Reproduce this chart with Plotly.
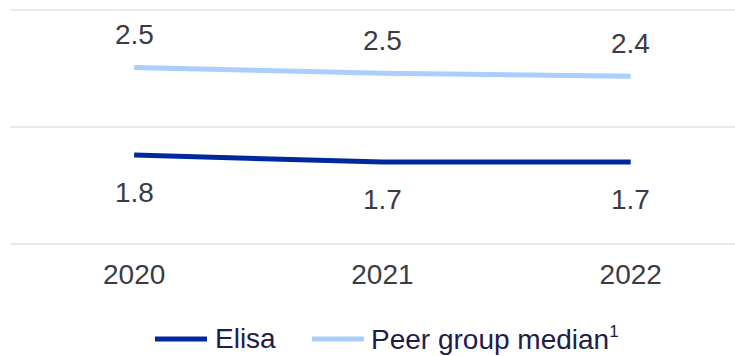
import plotly.graph_objects as go

years = ["2020", "2021", "2022"]
elisa = [1.76, 1.70, 1.70]
peer_median = [2.51, 2.46, 2.435]
series_names = ["Elisa", "Peer group median<sup><span style='font-size:17px'>1</span></sup>"]

ELISA_COLOR = "#00289e"
PEER_COLOR = "#abcffd"
LABEL_COLOR = "#3b3b44"
LEGEND_TEXT = "#1c2048"
FONT = "Liberation Sans, Arial, sans-serif"
FS = 28

# plot-area geometry (pixels) used to place the hand-made legend
W, H = 735, 356
L, R, T = 10, 0, 7.7
Y_RANGE = [0.98, 3.02]
PLOT_H = 238.2
B = H - T - PLOT_H


def px_to_paper(px, py):
    return (px - L) / (W - L - R), (T + PLOT_H - py) / PLOT_H


fig = go.Figure()
for name, vals, color in [(series_names[0], elisa, ELISA_COLOR),
                          (series_names[1], peer_median, PEER_COLOR)]:
    fig.add_trace(go.Scatter(
        x=list(range(len(years))), y=vals, name=name, mode="lines",
        line=dict(color=color, width=5), hoverinfo="skip", showlegend=False,
    ))

# value labels: peer above its line, Elisa below
for i, v in enumerate(peer_median):
    fig.add_annotation(x=i, y=v, text=f"{v:.1f}", showarrow=False, yshift=33,
                       font=dict(size=FS, color=LABEL_COLOR, family=FONT))
for i, v in enumerate(elisa):
    fig.add_annotation(x=i, y=v, text=f"{v:.1f}", showarrow=False, yshift=-37,
                       font=dict(size=FS, color=LABEL_COLOR, family=FONT))

# legend: short thick line followed by the series name
legend_items = [(155, 207, 213, series_names[0], ELISA_COLOR),
                (312, 364, 369, series_names[1], PEER_COLOR)]
for x0, x1, tx, name, color in legend_items:
    p0x, py = px_to_paper(x0, 339)
    p1x, _ = px_to_paper(x1, 339)
    fig.add_shape(type="line", xref="paper", yref="paper", x0=p0x, x1=p1x, y0=py, y1=py,
                  line=dict(color=color, width=5))
    ptx, pty = px_to_paper(tx, 338)
    fig.add_annotation(xref="paper", yref="paper", x=ptx, y=pty, text=name,
                       xanchor="left", yanchor="middle", showarrow=False,
                       font=dict(size=FS, color=LEGEND_TEXT, family=FONT))

fig.update_layout(
    width=W, height=H,
    margin=dict(l=L, r=R, t=T, b=B),
    paper_bgcolor="white", plot_bgcolor="white",
    font=dict(family=FONT, size=FS, color=LABEL_COLOR),
    showlegend=False,
)
fig.update_xaxes(range=[-0.5, 2.42], tickvals=list(range(len(years))), ticktext=years,
                 showgrid=False, zeroline=False, showline=False, ticks="",
                 ticklabelstandoff=9,
                 tickfont=dict(size=FS, color=LABEL_COLOR))
fig.update_yaxes(range=Y_RANGE, tickvals=[1, 2, 3], showticklabels=False,
                 gridcolor="#e9e9e9", gridwidth=2, zeroline=False, showline=False)

fig.write_html("out.html")
